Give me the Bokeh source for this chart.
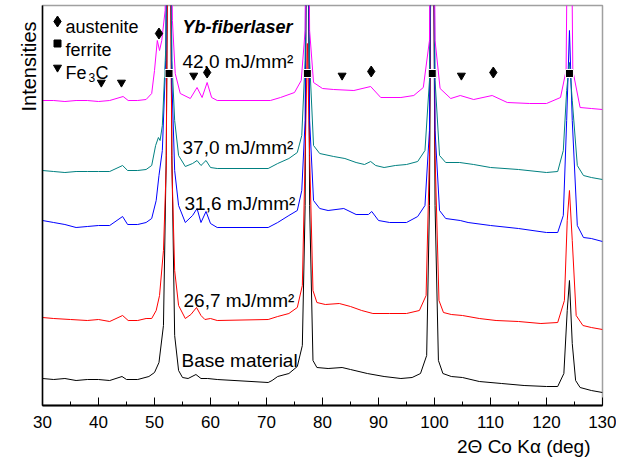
from bokeh.plotting import figure
from bokeh.models import Label, SingleIntervalTicker, FixedTicker, Title
from bokeh.embed import file_html
from bokeh.resources import INLINE

# ---- data (2theta in deg, intensity in arbitrary units, offset per curve) ----
base_tt = [30, 32, 34, 36, 38, 40, 42, 44.2, 45, 47, 49, 50, 50.8, 51.6, 52.1, 52.6, 53.1, 53.6, 54.3,
           55, 56, 57.4, 58.3, 59.5, 61.2, 70.3, 71, 72, 74, 75.5, 76.4, 76.9, 77.3, 77.7, 78.3, 79,
           81, 83.5, 85, 88, 91, 94, 96, 97.5, 98.6, 99.1, 99.6, 100.1, 100.7, 101.5,
           103, 105, 108, 112, 116, 120, 122, 123.1, 123.7, 124.1, 124.6, 125.2, 126, 128, 130]
base_int = [27, 26, 27, 25, 26, 26, 25, 29, 26, 26, 29, 33, 43, 80, 250, 700, 250, 70, 35,
            28, 27, 31, 27, 27, 26, 23, 25, 29, 32, 39, 60, 200, 700, 200, 45, 38,
            37, 38, 36, 32, 29, 27, 28, 32, 50, 200, 700, 200, 45, 32,
            29, 28, 24, 22, 20, 19, 19, 32, 95, 125, 62, 25, 18, 15, 13]

red_tt = [30, 32, 35, 38, 40, 42, 44.3, 45.3, 47, 48.5, 49.5, 50.3, 50.9, 51.6, 52.1, 52.6, 53.1, 53.6, 54.3,
          55.5, 56.5, 57.5, 58.3, 59, 60, 61.2, 70.3, 72, 74, 75.5, 76.4, 76.9, 77.3, 77.7, 78.3, 79,
          80.5, 83, 85, 87, 89, 92, 95, 97.3, 98.5, 99.1, 99.6, 100.1, 100.8, 101.6,
          103, 105, 108, 111, 115, 119, 122, 123.2, 123.7, 124.1, 124.6, 125.3, 126.5, 128, 130]
red_int = [88, 87, 86, 85, 86, 84, 90, 85, 85, 87, 87, 95, 110, 155, 240, 700, 240, 135, 100,
           87, 91, 98, 90, 86, 87, 85, 86, 89, 92, 98, 120, 250, 362, 250, 115, 103,
           101, 102, 99, 95, 92, 92, 92, 95, 110, 250, 700, 250, 105, 93,
           91, 90, 87, 85, 84, 82, 83, 105, 185, 215, 165, 90, 80, 78, 76]

blue_tt = [30, 32, 34, 36, 38, 40, 42, 44.3, 45.2, 47, 48.5, 49.5, 50.3, 50.8, 51.4, 52.0, 52.6, 53.1, 53.6, 54.3,
           55.5, 56.8, 57.6, 58.3, 59.2, 60, 61.2, 70.3, 72, 74, 75.5, 76.3, 76.9, 77.3, 77.7, 78.4, 79.5,
           81, 83.8, 86, 88.2, 88.8, 90, 92, 95, 97, 98.3, 99.1, 99.6, 100.1, 100.9,
           102, 104.6, 106, 110, 115, 120, 122, 123, 123.6, 124.1, 124.6, 125.5, 126.6, 128, 130]
blue_int = [185, 183, 181, 178, 179, 180, 180, 189, 181, 181, 183, 187, 205, 230, 255, 345, 700, 325, 235, 200,
            183, 190, 197, 183, 194, 182, 178, 178, 183, 190, 195, 215, 285, 700, 285, 205, 197,
            195, 197, 191, 191, 194, 185, 183, 183, 189, 200, 275, 700, 275, 195,
            187, 185, 183, 180, 177, 173, 173, 190, 285, 375, 285, 180, 168, 167, 164]

teal_tt = [30, 32, 34, 36, 38, 40, 42, 44.3, 45.2, 47, 48.5, 49.5, 50.2, 50.7, 51.0, 51.4, 52.0, 52.6, 53.1, 53.6, 54.3,
           55.5, 56.8, 57.6, 58.3, 59.2, 60, 61.2, 70.3, 72, 74, 75.5, 76.3, 76.9, 77.3, 77.7, 78.4, 79.5,
           82, 84, 86, 87.5, 88.6, 89.5, 91, 93, 95, 97, 98.3, 99.1, 99.6, 100.1, 100.9,
           102, 104.5, 107, 110, 115, 120, 122, 123, 123.6, 124.1, 124.6, 125.5, 126.6, 128, 130]
teal_int = [235, 234, 233, 234, 234, 234, 234, 240, 235, 235, 236, 240, 260, 268, 265, 280, 355, 700, 345, 285, 250,
            239, 242, 245, 240, 245, 238, 237, 237, 242, 247, 253, 270, 345, 700, 345, 260, 252,
            249, 247, 243, 241, 244, 240, 238, 240, 241, 244, 255, 325, 700, 325, 250,
            243, 243, 241, 238, 236, 233, 234, 255, 315, 343, 305, 240, 230, 228, 226]

mag_tt = [30, 32, 34, 36, 38, 40, 42, 44.4, 45.3, 47, 48.5, 49.5, 50.0, 50.5, 50.9, 51.3, 51.9, 52.6, 53.2, 53.7, 54.6,
          56.4, 57.6, 58.5, 59.4, 60.2, 61.2, 70.7, 72.5, 75, 76.2, 76.9, 77.3, 77.7, 78.4,
          80, 82, 85.6, 88.6, 90.4, 94, 96.3, 98, 99.1, 99.6, 100.1, 101,
          102.9, 104.6, 107, 110.3, 113, 117, 120, 122.5, 123.5, 124.1, 124.7, 126, 128, 130]
mag_int = [305, 305, 304, 305, 305, 304, 305, 309, 305, 305, 306, 312, 335, 365, 355, 365, 395, 700, 385, 332, 312,
           307, 318, 308, 323, 308, 305, 305, 308, 313, 325, 375, 700, 375, 323,
           317, 316, 315, 319, 308, 308, 310, 318, 365, 700, 365, 317,
           307, 310, 306, 310, 303, 302, 302, 308, 335, 700, 335, 298, 297, 296]

# phase markers: peak positions (2theta) and marker heights
ferrite_tt = [52.6, 77.3, 99.6, 124.1]
ferrite_h = [332, 332, 332, 332]
austenite_tt = [50.8, 59.4, 88.7, 110.5]
austenite_h = [372, 333, 334, 333]
fe3c_tt = [40.5, 44.1, 57.0, 83.5, 104.8]
fe3c_h = [323, 323, 330, 330, 330]

curve_labels = ["Base material", "26,7 mJ/mm\u00b2", "31,6 mJ/mm\u00b2", "37,0 mJ/mm\u00b2", "42,0 mJ/mm\u00b2"]

FONT = "Liberation Sans"
PX = 5.6  # px per degree


def dx(px):
    return 30 + (px - 42) / PX


def dy(px):
    return 405 - px


p = figure(frame_width=560, frame_height=400, x_range=(30, 130), y_range=(0, 400),
           output_backend="svg", toolbar_location=None,
           min_border_left=42, min_border_right=14, min_border_top=5, min_border_bottom=50)
p.grid.visible = False
p.outline_line_color = "#a0a0a0"
p.outline_line_width = 1.5
p.background_fill_color = "white"
p.border_fill_color = "white"

xa = p.xaxis[0]
xa.ticker = SingleIntervalTicker(interval=10, num_minor_ticks=2)
xa.major_tick_in = 8
xa.major_tick_out = 0
xa.minor_tick_in = 4
xa.minor_tick_out = 0
xa.axis_line_width = 2
xa.axis_line_color = "black"
xa.major_tick_line_color = "black"
xa.minor_tick_line_color = "black"
xa.major_label_text_font = FONT
xa.major_label_text_font_size = "17px"
xa.major_label_text_color = "black"
xa.major_label_standoff = 10

ya = p.yaxis[0]
ya.ticker = FixedTicker(ticks=[], minor_ticks=[])
ya.axis_line_width = 1.5
ya.axis_line_color = "black"
ya.major_label_text_font_size = "0px"
ya.major_label_standoff = 0
ya.major_tick_out = 0
ya.major_tick_in = 0
ya.minor_tick_out = 0
ya.minor_tick_in = 0

# axis titles as side titles (aligned like the reference)
p.add_layout(Title(text="Intensities", align="right", offset=16, standoff=5,
                   text_font=FONT, text_font_size="20px", text_font_style="normal",
                   text_color="black"), "left")
p.add_layout(Title(text="2\u0398 Co K\u03b1 (deg)", align="right", offset=12, standoff=7,
                   text_font=FONT, text_font_size="19px", text_font_style="normal",
                   text_color="black"), "below")

# curves
p.line(base_tt, base_int, color="black", line_width=1)
p.line(red_tt, red_int, color="#ff0000", line_width=1)
p.line(blue_tt, blue_int, color="#0000ff", line_width=1)
p.line(teal_tt, teal_int, color="#008080", line_width=1)
p.line(mag_tt, mag_int, color="#ff00ff", line_width=1)

# phase markers
p.scatter(ferrite_tt, ferrite_h, marker="square", size=8, fill_color="black", line_color="white", line_width=1)
p.scatter(austenite_tt, austenite_h, marker="diamond", size=11, fill_color="black", line_color="black")
p.scatter(fe3c_tt, fe3c_h, marker="inverted_triangle", size=8, fill_color="black", line_color="black")

# legend
p.scatter([dx(57)], [dy(21)], marker="diamond", size=11, fill_color="black", line_color="black")
p.scatter([dx(57)], [dy(43)], marker="square", size=7, fill_color="black", line_color="black")
p.scatter([dx(57)], [dy(67)], marker="inverted_triangle", size=8, fill_color="black", line_color="black")


def lab(x, y, text, size="18px", style="normal", align="left", baseline="alphabetic"):
    p.add_layout(Label(x=x, y=y, text=text, text_font=FONT, text_font_size=size,
                       text_font_style=style, text_align=align, text_baseline=baseline,
                       text_color="black"))


lab(dx(65), dy(26), "austenite")
lab(dx(65), dy(49), "ferrite")
lab(dx(65), dy(72), "Fe")
lab(dx(88), dy(77), "3", size="12px")
lab(dx(95), dy(72), "C")

lab(dx(182), dy(26), "Yb-fiberlaser", size="18px", style="bold italic")
label_px = [(181, 360), (183, 299.5), (184, 203), (182, 146.5), (182, 61)]
for (lx, ly), t in zip(label_px, curve_labels):
    lab(dx(lx), dy(ly), t, size="19px")

open("out.html", "w").write(file_html(p, INLINE))
